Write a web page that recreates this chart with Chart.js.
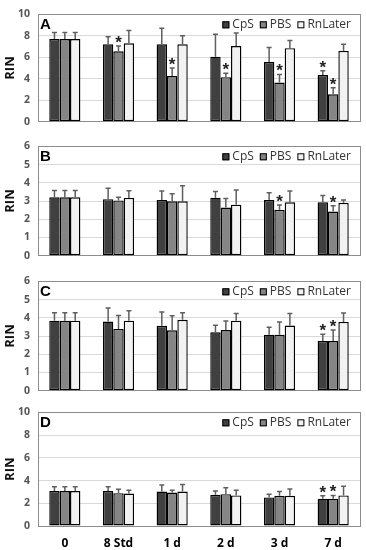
<!DOCTYPE html>
<html lang="en">
<head>
<meta charset="UTF-8">
<title>RIN by storage time</title>
<style>
  body {
    margin: 0;
    background: #fff;
    width: 366px;
    height: 550px;
    position: relative;
    overflow: hidden;
  }
  .panel {
    position: absolute;
    left: 0;
    width: 366px;
  }
</style>
</head>
<body>
  <div class="panel" id="wrapA" style="top:0;height:136px"><canvas id="chartA"></canvas></div>
  <div class="panel" id="wrapB" style="top:132px;height:138px"><canvas id="chartB"></canvas></div>
  <div class="panel" id="wrapC" style="top:267px;height:138px"><canvas id="chartC"></canvas></div>
  <div class="panel" id="wrapD" style="top:398px;height:152px"><canvas id="chartD"></canvas></div>

<script src="https://cdn.jsdelivr.net/npm/chart.js"></script>
<script>
  const categories = ['0', '8 Std', '1 d', '2 d', '3 d', '7 d'];
  const seriesNames = ['CpS', 'PBS', 'RnLater'];

  // Panel A
  const aCpS = [7.7, 7.2, 7.2, 6.05, 5.55, 4.35];
  const aPBS = [7.7, 6.55, 4.25, 4.15, 3.65, 2.55];
  const aRn = [7.7, 7.3, 7.2, 7.05, 6.85, 6.6];
  const aCpSErr = [0.6, 0.7, 1.5, 2.1, 1.35, 0.4];
  const aPBSErr = [0.6, 0.5, 0.75, 0.35, 0.75, 0.6];
  const aRnErr = [0.6, 1.2, 0.8, 1.2, 0.7, 0.6];
  const aCpSStar = [0, 0, 0, 0, 0, 1];
  const aPBSStar = [0, 1, 1, 1, 1, 1];
  const aRnStar = [0, 0, 0, 0, 0, 0];

  // Panel B
  const bCpS = [3.2, 3.1, 3.05, 3.18, 3.05, 2.93];
  const bPBS = [3.2, 3.03, 2.98, 2.64, 2.52, 2.42];
  const bRn = [3.2, 3.17, 2.98, 2.8, 2.93, 2.9];
  const bCpSErr = [0.38, 0.6, 0.5, 0.34, 0.4, 0.37];
  const bPBSErr = [0.38, 0.18, 0.42, 0.5, 0.26, 0.32];
  const bRnErr = [0.38, 0.39, 0.86, 0.8, 0.62, 0.16];
  const bCpSStar = [0, 0, 0, 0, 0, 0];
  const bPBSStar = [0, 0, 0, 0, 1, 1];
  const bRnStar = [0, 0, 0, 0, 0, 0];

  // Panel C
  const cCpS = [3.84, 3.79, 3.56, 3.2, 3.07, 2.72];
  const cPBS = [3.84, 3.39, 3.31, 3.33, 3.07, 2.72];
  const cRn = [3.84, 3.84, 3.89, 3.84, 3.57, 3.77];
  const cCpSErr = [0.43, 0.75, 0.75, 0.39, 0.41, 0.38];
  const cPBSErr = [0.43, 0.74, 0.8, 0.49, 0.7, 0.61];
  const cRnErr = [0.43, 0.54, 0.38, 0.39, 0.66, 0.49];
  const cCpSStar = [0, 0, 0, 0, 0, 1];
  const cPBSStar = [0, 0, 0, 0, 0, 1];
  const cRnStar = [0, 0, 0, 0, 0, 0];

  // Panel D
  const dCpS = [3.08, 3.08, 3.03, 2.74, 2.51, 2.4];
  const dPBS = [3.08, 2.89, 2.94, 2.8, 2.66, 2.4];
  const dRn = [3.08, 2.86, 3.03, 2.69, 2.66, 2.69];
  const dCpSErr = [0.37, 0.37, 0.57, 0.34, 0.29, 0.26];
  const dPBSErr = [0.37, 0.34, 0.2, 0.57, 0.37, 0.29];
  const dRnErr = [0.37, 0.28, 0.63, 0.45, 0.6, 0.8];
  const dCpSStar = [0, 0, 0, 0, 0, 1];
  const dPBSStar = [0, 0, 0, 0, 0, 1];
  const dRnStar = [0, 0, 0, 0, 0, 0];

  const fillColors = ['#404040', '#858585', '#f2f2f2'];

  // error bars (upper whisker only) and significance stars
  const errorBarPlugin = {
    id: 'errorBars',
    afterDatasetsDraw(chart) {
      const ctx = chart.ctx;
      const yScale = chart.scales.y;
      chart.data.datasets.forEach((ds, i) => {
        const meta = chart.getDatasetMeta(i);
        meta.data.forEach((bar, j) => {
          const top = yScale.getPixelForValue(ds.data[j] + ds.errors[j]);
          ctx.save();
          ctx.strokeStyle = '#5f5f5f';
          ctx.lineWidth = 1.5;
          ctx.beginPath();
          ctx.moveTo(bar.x, bar.y);
          ctx.lineTo(bar.x, top);
          ctx.moveTo(bar.x - 2.5, top);
          ctx.lineTo(bar.x + 2.5, top);
          ctx.stroke();
          if (ds.stars[j]) {
            ctx.fillStyle = '#222';
            ctx.font = 'bold 17px "Liberation Sans", Arial, sans-serif';
            ctx.textAlign = 'center';
            ctx.textBaseline = 'alphabetic';
            ctx.fillText('*', bar.x, top + 2);
          }
          ctx.restore();
        });
      });
    }
  };

  // plot frame, panel letter and in-plot legend
  const framePlugin = {
    id: 'frame',
    beforeDatasetsDraw(chart) {
      const a = chart.chartArea;
      const ctx = chart.ctx;
      ctx.save();
      ctx.strokeStyle = '#8c8c8c';
      ctx.lineWidth = 1;
      ctx.strokeRect(Math.round(a.left) + 0.5, Math.round(a.top) + 0.5,
        Math.round(a.right - a.left), Math.round(a.bottom - a.top));
      ctx.restore();
    },
    afterDraw(chart, args, opts) {
      const a = chart.chartArea;
      const ctx = chart.ctx;
      ctx.save();
      ctx.fillStyle = '#000';
      ctx.font = 'bold 15px "Liberation Sans", Arial, sans-serif';
      ctx.textAlign = 'left';
      ctx.textBaseline = 'alphabetic';
      ctx.fillText(opts.letter, a.left + 2, a.top + 15);

      ctx.font = '12px "Open Sans", sans-serif';
      ctx.textBaseline = 'middle';
      const box = 7, gap = 3, itemGap = 6;
      const widths = chart.data.datasets.map(ds => ctx.measureText(ds.label).width);
      let total = 0;
      widths.forEach((w, i) => { total += box + gap + w + (i < widths.length - 1 ? itemGap : 0); });
      let x = a.right - 9 - total;
      const cy = a.top + 10.5;
      chart.data.datasets.forEach((ds, i) => {
        ctx.fillStyle = ds.backgroundColor;
        ctx.fillRect(x, cy - box / 2, box, box);
        ctx.strokeStyle = '#000';
        ctx.lineWidth = 1;
        ctx.strokeRect(x + 0.5, cy - box / 2 + 0.5, box - 1, box - 1);
        x += box + gap;
        ctx.fillStyle = '#333';
        ctx.fillText(ds.label, x, cy);
        x += widths[i] + itemGap;
      });
      ctx.restore();
    }
  };

  function makePanel(canvasId, letter, values, errors, stars, yMax, step, pad, showX) {
    const datasets = seriesNames.map((name, i) => ({
      label: name,
      data: values[i],
      errors: errors[i],
      stars: stars[i],
      backgroundColor: fillColors[i],
      borderColor: '#000',
      borderWidth: 1.4,
      borderSkipped: false,
      categoryPercentage: 0.58,
      barPercentage: 1
    }));
    return new Chart(document.getElementById(canvasId), {
      type: 'bar',
      data: { labels: categories, datasets: datasets },
      options: {
        responsive: true,
        maintainAspectRatio: false,
        animation: false,
        layout: { padding: pad },
        plugins: {
          legend: { display: false },
          tooltip: { enabled: false },
          frame: { letter: letter }
        },
        scales: {
          x: {
            display: showX,
            grid: { display: false },
            border: { display: false },
            ticks: {
              color: '#000',
              padding: 2,
              font: { family: '"Open Sans", sans-serif', size: 12, weight: 'bold' }
            },
            afterFit: s => { if (showX) s.height = 24; }
          },
          y: {
            min: 0,
            max: yMax,
            border: { display: false },
            grid: { color: '#d9d9d9', drawTicks: false },
            ticks: {
              stepSize: step,
              padding: 8,
              color: '#555',
              font: { family: '"Open Sans", sans-serif', size: 10.5, weight: 'bold' }
            },
            title: {
              display: true,
              text: 'RIN',
              color: '#111',
              padding: { top: 2, bottom: 0 },
              font: { family: '"Open Sans", sans-serif', size: 13, weight: 'bold' }
            },
            afterFit: s => { s.width = 38; }
          }
        }
      },
      plugins: [errorBarPlugin, framePlugin]
    });
  }

  makePanel('chartA', 'A', [aCpS, aPBS, aRn], [aCpSErr, aPBSErr, aRnErr],
    [aCpSStar, aPBSStar, aRnStar], 10, 2, { top: 6, right: 6, bottom: 7.7, left: 0 }, false);
  makePanel('chartB', 'B', [bCpS, bPBS, bRn], [bCpSErr, bPBSErr, bRnErr],
    [bCpSStar, bPBSStar, bRnStar], 6, 1, { top: 8, right: 6, bottom: 7.3, left: 0 }, false);
  makePanel('chartC', 'C', [cCpS, cPBS, cRn], [cCpSErr, cPBSErr, cRnErr],
    [cCpSStar, cPBSStar, cRnStar], 6, 1, { top: 8.7, right: 6, bottom: 7.7, left: 0 }, false);
  makePanel('chartD', 'D', [dCpS, dPBS, dRn], [dCpSErr, dPBSErr, dRnErr],
    [dCpSStar, dPBSStar, dRnStar], 10, 2, { top: 9.3, right: 6, bottom: 0, left: 0 }, true);
</script>
</body>
</html>
